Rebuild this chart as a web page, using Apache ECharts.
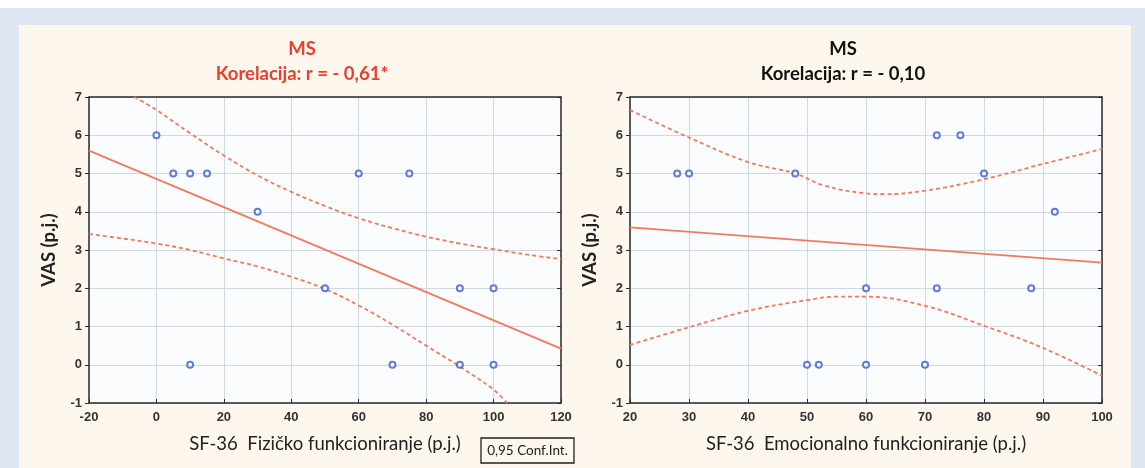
<!DOCTYPE html>
<html><head><meta charset="utf-8">
<script src="https://cdn.jsdelivr.net/npm/echarts@6/dist/echarts.min.js"></script>
<style>html,body{margin:0;padding:0;background:#fff}#c{width:1145px;height:468px}</style>
</head><body><div id="c"></div>
<script>
// ---- data ----
const xTicksLeft = [-20, 0, 20, 40, 60, 80, 100, 120];
const xTicksRight = [20, 30, 40, 50, 60, 70, 80, 90, 100];
const yTicks = [-1, 0, 1, 2, 3, 4, 5, 6, 7];

const fizX = [0, 5, 10, 15, 30, 60, 75, 50, 90, 100, 10, 70, 90, 100];
const fizY = [6, 5, 5, 5, 4, 5, 5, 2, 2, 2, 0, 0, 0, 0];
const fizFit = [[-20, 5.6], [120, 0.42]];
const fizUpper = [[-6.6, 7], [0, 6.66], [10, 6.05], [20, 5.47], [30, 4.95], [40, 4.52], [50, 4.15], [60, 3.83], [70, 3.57], [80, 3.35], [90, 3.17], [100, 3.02], [110, 2.88], [120, 2.76]];
const fizLower = [[-20, 3.42], [-10, 3.3], [0, 3.17], [10, 3.0], [20, 2.78], [30, 2.57], [40, 2.3], [50, 1.98], [60, 1.55], [70, 1.05], [80, 0.5], [90, -0.05], [100, -0.65], [104, -1]];

const emoX = [28, 30, 48, 72, 76, 80, 92, 60, 72, 88, 50, 52, 60, 70];
const emoY = [5, 5, 5, 6, 6, 5, 4, 2, 2, 2, 0, 0, 0, 0];
const emoFit = [[20, 3.59], [100, 2.67]];
const emoUpper = [[20, 6.66], [30, 5.94], [40, 5.3], [48, 5.0], [53, 4.68], [60, 4.48], [63, 4.46], [70, 4.55], [80, 4.85], [90, 5.25], [100, 5.64]];
const emoLower = [[20, 0.52], [30, 0.98], [40, 1.41], [50, 1.69], [55, 1.78], [60, 1.78], [70, 1.54], [80, 1.02], [90, 0.44], [100, -0.29]];

const titleLeft = 'MS\nKorelacija: r = - 0,61*';
const titleRight = 'MS\nKorelacija: r = - 0,10';
const xNameLeft = 'SF-36  Fizičko funkcioniranje (p.j.)';
const xNameRight = 'SF-36  Emocionalno funkcioniranje (p.j.)';
const yName = 'VAS (p.j.)';
const legendText = '0,95 Conf.Int.';

// ---- styling ----
const lineColor = '#f07a5c';
const pointColor = '#3a5ccc';
const axisColor = '#2b2b2b';
const gridColor = '#cfd8e3';
const tickFont = {fontFamily: 'Liberation Sans Narrow, Liberation Sans, Arial', fontWeight: 'bold', fontSize: 13, color: '#333'};

function xAxisCfg(idx, min, max, interval, name) {
  return {
    gridIndex: idx, type: 'value', min: min, max: max, interval: interval,
    name: name, nameLocation: 'middle', nameGap: 32,
    nameTextStyle: {fontFamily: 'Lato, Open Sans', fontSize: 18.5, color: '#222'},
    axisLine: {show: true, onZero: false, lineStyle: {color: axisColor, width: 1.5}},
    axisTick: {show: true, inside: true, length: 4, lineStyle: {color: axisColor}},
    axisLabel: Object.assign({margin: 8}, tickFont),
    splitLine: {show: true, lineStyle: {color: gridColor, width: 1}}
  };
}
function yAxisCfg(idx, withName) {
  return {
    gridIndex: idx, type: 'value', min: -1, max: 7, interval: 1,
    name: withName ? yName : '', nameLocation: 'middle', nameGap: 30,
    nameTextStyle: {fontFamily: 'Lato, Open Sans', fontSize: 18.5, fontWeight: 'bold', color: '#222'},
    axisLine: {show: true, onZero: false, lineStyle: {color: axisColor, width: 1.5}},
    axisTick: {show: true, inside: false, length: 4, lineStyle: {color: axisColor}},
    axisLabel: Object.assign({margin: 7}, tickFont),
    splitLine: {show: true, lineStyle: {color: gridColor, width: 1}}
  };
}
function yAxisRight(idx) {
  return {
    gridIndex: idx, type: 'value', min: -1, max: 7, interval: 1, position: 'right',
    axisLine: {show: true, onZero: false, lineStyle: {color: axisColor, width: 1.5}},
    axisTick: {show: true, inside: true, length: 4, lineStyle: {color: axisColor}},
    axisLabel: {show: false}, splitLine: {show: false}
  };
}
function xAxisTop(idx, min, max, interval) {
  return {
    gridIndex: idx, type: 'value', min: min, max: max, interval: interval, position: 'top',
    axisLine: {show: true, onZero: false, lineStyle: {color: axisColor, width: 1.5}},
    axisTick: {show: false}, axisLabel: {show: false}, splitLine: {show: false}
  };
}

const pts = (xs, ys) => xs.map((x, i) => [x, ys[i]]);
function lineSeries(xi, yi, data, dashed) {
  return {
    type: 'line', xAxisIndex: xi, yAxisIndex: yi, data: data, smooth: dashed ? 0.4 : false,
    showSymbol: false, silent: true, clip: true,
    lineStyle: {color: lineColor, width: 1.8, type: dashed ? [4, 3] : 'solid'}, z: 3
  };
}
function scatterSeries(xi, yi, data) {
  return {
    type: 'scatter', xAxisIndex: xi, yAxisIndex: yi, data: data,
    symbol: 'emptyCircle', symbolSize: 6,
    itemStyle: {color: pointColor, borderColor: pointColor, borderWidth: 1.1}, z: 4
  };
}

const chart = echarts.init(document.getElementById('c'));
chart.setOption({
  animation: false,
  backgroundColor: '#ffffff',
  graphic: [
    {type: 'rect', shape: {x: 0, y: 8, width: 1145, height: 460}, style: {fill: '#e0e7f4'}, z: -10},
    {type: 'rect', shape: {x: 19, y: 25, width: 1112, height: 443}, style: {fill: '#fdf7ee'}, z: -9},
    {type: 'rect', shape: {x: 481, y: 438, width: 93, height: 25}, style: {fill: 'none', stroke: '#222', lineWidth: 1.3}, z: 10},
    {type: 'text', x: 527.5, y: 451, style: {text: legendText, fill: '#222', font: '13.5px Lato, Open Sans', textAlign: 'center', textVerticalAlign: 'middle'}, z: 11}
  ],
  title: [
    {text: titleLeft, left: 302, top: 37, textAlign: 'center', padding: 0,
     textStyle: {fontFamily: 'Lato, Open Sans', fontSize: 18.5, fontWeight: 'bold', color: '#e8402c', lineHeight: 25}},
    {text: titleRight, left: 843, top: 37, textAlign: 'center', padding: 0,
     textStyle: {fontFamily: 'Lato, Open Sans', fontSize: 18.5, fontWeight: 'bold', color: '#111', lineHeight: 25}}
  ],
  grid: [
    {left: 89, right: 584, top: 97, bottom: 65, show: true, backgroundColor: '#fbfcfe', borderWidth: 0},
    {left: 630, right: 43, top: 97, bottom: 65, show: true, backgroundColor: '#fbfcfe', borderWidth: 0}
  ],
  xAxis: [
    xAxisCfg(0, -20, 120, 20, xNameLeft),
    xAxisCfg(1, 20, 100, 10, xNameRight),
    xAxisTop(0, -20, 120, 20),
    xAxisTop(1, 20, 100, 10)
  ],
  yAxis: [yAxisCfg(0, true), yAxisCfg(1, true), yAxisRight(0), yAxisRight(1)],
  series: [
    lineSeries(0, 0, fizFit, false),
    lineSeries(0, 0, fizUpper, true),
    lineSeries(0, 0, fizLower, true),
    scatterSeries(0, 0, pts(fizX, fizY)),
    lineSeries(1, 1, emoFit, false),
    lineSeries(1, 1, emoUpper, true),
    lineSeries(1, 1, emoLower, true),
    scatterSeries(1, 1, pts(emoX, emoY))
  ]
});
</script></body></html>
